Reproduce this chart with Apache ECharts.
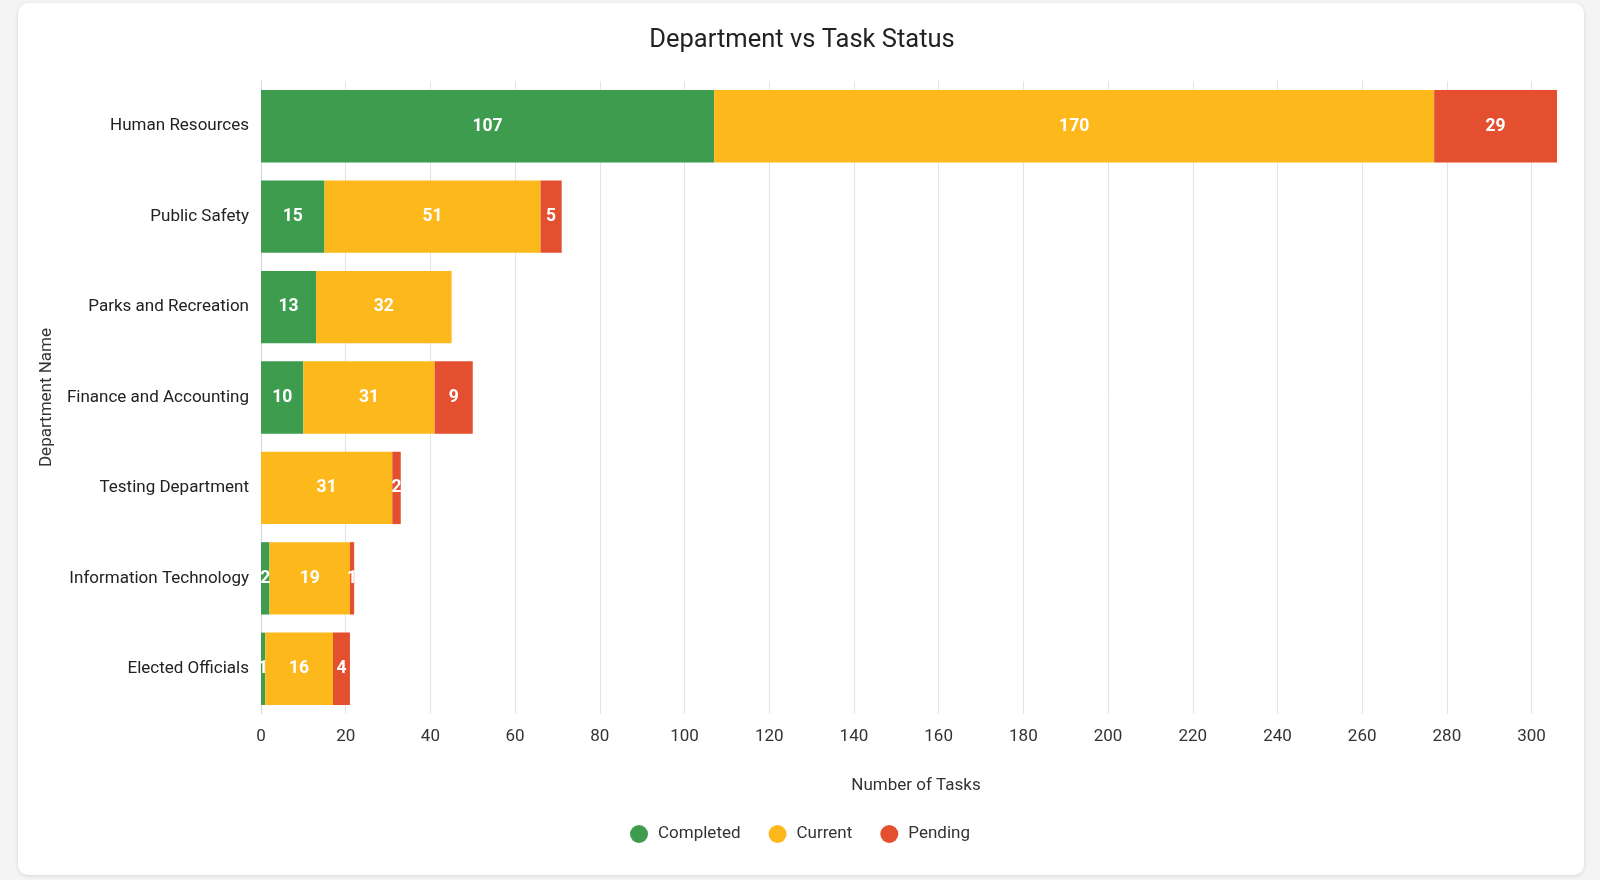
<!DOCTYPE html>
<html>
<head>
<meta charset="utf-8">
<script src="https://cdn.jsdelivr.net/npm/echarts@6/dist/echarts.min.js"></script>
<style>
  html, body { margin: 0; padding: 0; background: #f4f4f4; }
  #card { position: absolute; left: 18px; top: 3px; width: 1566px; height: 872px; background: #fff; border-radius: 10px; box-shadow: 0 1px 4px rgba(0,0,0,0.12); }
  #chart { position: absolute; left: 0; top: 0; width: 1600px; height: 880px; }
</style>
</head>
<body>
<div id="card"></div>
<div id="chart"></div>
<script>
const categories = ["Human Resources", "Public Safety", "Parks and Recreation", "Finance and Accounting", "Testing Department", "Information Technology", "Elected Officials"];
const completed = [107, 15, 13, 10, 0, 2, 1];
const current = [170, 51, 32, 31, 31, 19, 16];
const pending = [29, 5, 0, 9, 2, 1, 4];
const seriesNames = ["Completed", "Current", "Pending"];
const colors = ["#3e9c4f", "#fdb91b", "#e44f2f"];

const chart = echarts.init(document.getElementById('chart'), null, { renderer: 'canvas' });
const labelCfg = {
  show: true, position: 'inside', color: '#fff', fontWeight: 'bold', fontSize: 17.5, fontFamily: 'Roboto',
  formatter: p => (p.value ? String(p.value) : '')
};
const makeSeries = (name, data, color) => ({
  name, type: 'bar', stack: 'total', data, barCategoryGap: '20%',
  itemStyle: { color }, label: labelCfg, emphasis: { disabled: true }
});
chart.setOption({
  animation: false,
  textStyle: { fontFamily: 'Roboto' },
  title: {
    text: 'Department vs Task Status', left: 797, top: 23, textAlign: 'center',
    textStyle: { fontSize: 25.5, fontWeight: 'normal', color: '#222', fontFamily: 'Roboto' }
  },
  legend: {
    data: seriesNames, left: 'center', top: 820, icon: 'circle', itemWidth: 18, itemHeight: 18, itemGap: 28,
    textStyle: { fontSize: 17, color: '#333', fontFamily: 'Roboto', padding: [0, 0, 0, 5] }
  },
  grid: { left: 261, right: 43, top: 81, bottom: 166, containLabel: false },
  xAxis: {
    type: 'value', min: 0, max: 306, interval: 20,
    name: 'Number of Tasks', nameLocation: 'middle', nameGap: 63,
    nameTextStyle: { fontSize: 17, color: '#333', padding: [0, 0, 0, 14] },
    axisLine: { show: false }, axisTick: { show: false },
    axisLabel: { fontSize: 17, color: '#333', margin: 14, showMaxLabel: false },
    splitLine: { show: true, showMaxLine: false, lineStyle: { color: '#e3e3e3', width: 1 } }
  },
  yAxis: {
    type: 'category', data: categories, inverse: true,
    name: 'Department Name', nameLocation: 'middle', nameGap: 206,
    nameTextStyle: { fontSize: 17, color: '#333' },
    axisLine: { show: true, lineStyle: { color: '#cfd8e3' } }, axisTick: { show: false },
    axisLabel: { fontSize: 17, color: '#222', margin: 12 }
  },
  series: [
    makeSeries(seriesNames[0], completed, colors[0]),
    makeSeries(seriesNames[1], current, colors[1]),
    makeSeries(seriesNames[2], pending, colors[2])
  ]
});
</script>
</body>
</html>
